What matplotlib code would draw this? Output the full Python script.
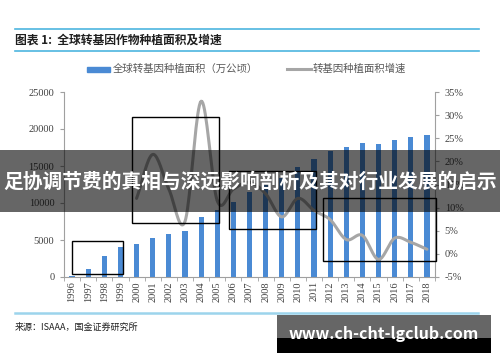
import numpy as np
import matplotlib.pyplot as plt
from matplotlib.patches import Rectangle
from matplotlib.lines import Line2D

plt.rcParams['font.family'] = ['Noto Sans CJK SC', 'DejaVu Sans']

years = [str(y) for y in range(1996, 2019)]
# 全球转基因种植面积（万公顷）
area = [170, 1100, 2780, 3990, 4420, 5260, 5870, 6250, 8100, 9000, 10200,
        11430, 12500, 13400, 14800, 16000, 17030, 17520, 18150, 17970,
        18510, 18980, 19170]
# 转基因种植面积增速 (from 2000 on)
growth_years = years[4:]
growth = [0.12, 0.215, 0.14, 0.07, 0.33, 0.115, 0.14, 0.155, 0.13, 0.08,
          0.12, 0.094, 0.074, 0.031, 0.04, -0.012, 0.034, 0.025, 0.01]

W, H = 500, 362
fig = plt.figure(figsize=(W / 100, H / 100), dpi=100)


def fx(px):
    return px / W


def fy(py):
    return 1 - py / H


ax = fig.add_axes([fx(64), fy(277), fx(435) - fx(64), fy(92) - fy(277)])
x = np.arange(len(years))
ax.bar(x, area, width=0.32, color='#4A8AD4', zorder=2)
ax.set_xlim(-0.5, len(years) - 0.5)
ax.set_ylim(0, 25000)
ax.set_yticks(range(0, 25001, 5000))
ax.set_xticks(x)
ax.set_xticklabels(years, rotation=90, family='Liberation Serif', fontsize=7.5, color='#404040')
ax.set_xticks(np.arange(-0.5, len(years), 1), minor=True)
ax.tick_params(axis='x', which='major', length=0, pad=3)
ax.tick_params(axis='x', which='minor', length=3, color='#A0A0A0', direction='out')
ax.tick_params(axis='y', length=3, color='#A0A0A0', labelsize=7.5, labelcolor='#404040', pad=4)
for lab in ax.get_yticklabels():
    lab.set_family('Liberation Serif')
for s in ['top', 'right']:
    ax.spines[s].set_visible(False)
for s in ['left', 'bottom']:
    ax.spines[s].set_color('#A0A0A0')
    ax.spines[s].set_linewidth(0.8)

ax2 = ax.twinx()
ax2.set_ylim(-0.05, 0.35)
ax2.set_yticks(np.arange(-0.05, 0.351, 0.05))
ax2.set_yticklabels([f'{int(round(v * 100))}%' for v in np.arange(-0.05, 0.351, 0.05)],
                    family='Liberation Serif', fontsize=7.5, color='#404040')
ax2.tick_params(axis='y', length=3, color='#A0A0A0', pad=4)
for s in ['top', 'left', 'bottom']:
    ax2.spines[s].set_visible(False)
ax2.spines['right'].set_color('#A0A0A0')
ax2.spines['right'].set_linewidth(0.8)

# smoothed line (Catmull-Rom through the points, like Excel's smooth line)
gx = np.array([years.index(y) for y in growth_years], dtype=float)
gy = np.array(growth)
px = np.concatenate([[2 * gx[0] - gx[1]], gx, [2 * gx[-1] - gx[-2]]])
py = np.concatenate([[2 * gy[0] - gy[1]], gy, [2 * gy[-1] - gy[-2]]])
sx, sy = [], []
t = np.linspace(0, 1, 20)


def cr(p0, p1, p2, p3):
    return 0.5 * (2 * p1 + (-p0 + p2) * t + (2 * p0 - 5 * p1 + 4 * p2 - p3) * t ** 2
                  + (-p0 + 3 * p1 - 3 * p2 + p3) * t ** 3)


for i in range(1, len(px) - 2):
    sx.extend(cr(px[i - 1], px[i], px[i + 1], px[i + 2]))
    sy.extend(cr(py[i - 1], py[i], py[i + 1], py[i + 2]))
ax2.plot(sx, sy, color='#A6A6A6', lw=2.2, solid_capstyle='round', zorder=3)

# highlight boxes
for (x0, y0, x1, y1) in [(72, 241, 123, 274), (132, 117, 219, 223),
                         (229, 171, 316, 229), (323, 198, 436, 261)]:
    fig.add_artist(Rectangle((fx(x0), fy(y1)), fx(x1) - fx(x0), fy(y0) - fy(y1),
                             transform=fig.transFigure, fill=False, ec='black', lw=1.0, zorder=5))

# header
fig.add_artist(Line2D([fx(15), fx(479)], [fy(29), fy(29)], color='#4DB5DF', lw=1.2))
fig.add_artist(Line2D([fx(15), fx(479)], [fy(51), fy(51)], color='#4DB5DF', lw=1.2))
fig.text(fx(15), fy(40), '图表 1:  全球转基因作物种植面积及增速', fontsize=8.5, fontweight='bold',
         color='#1F1F1F', va='center', ha='left')

# legend
fig.add_artist(Rectangle((fx(87), fy(72)), fx(23), fy(67) - fy(72), transform=fig.transFigure,
                         color='#4A8AD4'))
fig.text(fx(113), fy(69), '全球转基因种植面积（万公顷）', fontsize=7.5, color='#595959', va='center')
fig.add_artist(Line2D([fx(287), fx(311)], [fy(69), fy(69)], color='#A6A6A6', lw=2.2))
fig.text(fx(313), fy(69), '转基因种植面积增速', fontsize=7.5, color='#595959', va='center')

# footer
fig.add_artist(Line2D([fx(15), fx(478)], [fy(313), fy(313)], color='#9CD4EC', lw=1.8))
fig.text(fx(15), fy(327), '来源：ISAAA，国金证券研究所', fontsize=6.5, color='#1F1F1F', va='center')

# overlay banner
fig.add_artist(Rectangle((0, fy(212)), 1, fy(150) - fy(212), transform=fig.transFigure,
                         color='black', alpha=0.6, lw=0, zorder=10))
fig.text(0.5, fy(182), '足协调节费的真相与深远影响剖析及其对行业发展的启示', fontsize=14.2,
         fontweight='bold', color='white', ha='center', va='center', zorder=11)

# watermark
fig.add_artist(Rectangle((fx(277), fy(338)), fx(491) - fx(277), fy(315) - fy(338),
                         transform=fig.transFigure, color='#666666', lw=0, zorder=10))
fig.add_artist(Rectangle((fx(277), fy(353)), fx(491) - fx(277), fy(338) - fy(353),
                         transform=fig.transFigure, color='black', lw=0, zorder=10))
fig.text(fx(384), fy(334), 'www.ch-cht-lgclub.com', fontsize=11.5, fontweight='bold',
         color='white', ha='center', va='center', zorder=11)

fig.savefig('out.png', dpi=100)
